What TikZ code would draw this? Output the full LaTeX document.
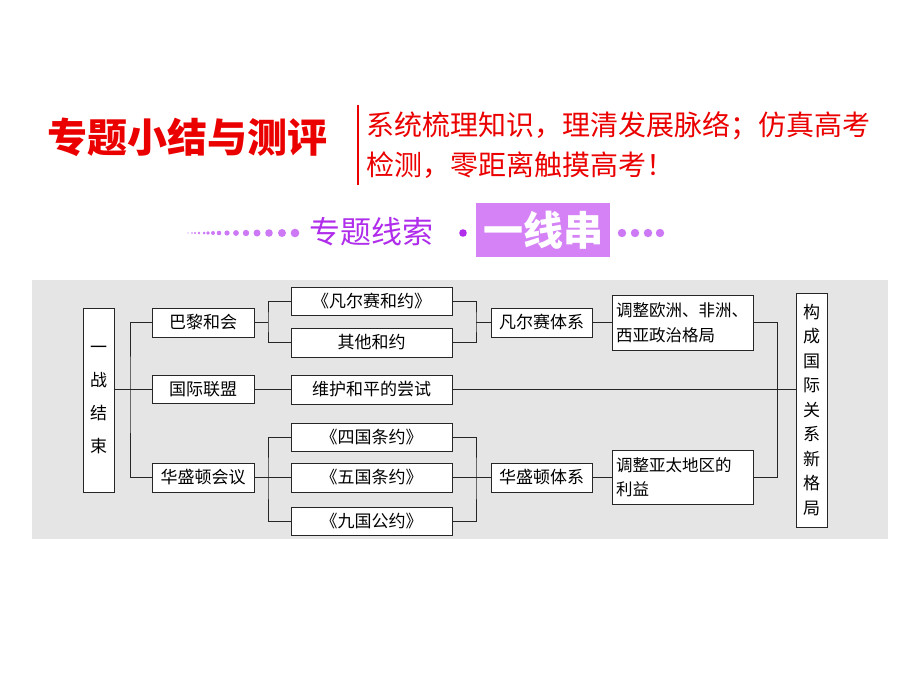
\documentclass[tikz,border=0pt]{standalone}
\usepackage{fontspec}
\newfontfamily\cjk{Noto Sans CJK SC}
\definecolor{bg}{RGB}{229,229,229}
\definecolor{tred}{RGB}{235,0,0}
\definecolor{tpurple}{RGB}{175,45,235}
\definecolor{dotp}{RGB}{205,120,245}
\definecolor{boxp}{RGB}{212,130,246}
\begin{document}
\begin{tikzpicture}[x=1pt,y=-1pt,
  box/.style={draw=black!85,fill=white,line width=0.9pt,inner sep=0pt,font=\cjk\fontsize{17}{20}\selectfont},
  lnk/.style={draw=black!85,line width=0.9pt},
  vbox/.style={box,minimum width=31,align=center},
]
\useasboundingbox (0,0) rectangle (920,690);
% header
\node[font=\cjk\bfseries\fontsize{40}{44}\selectfont,text=tred,anchor=west,inner sep=0pt] (title) at (47,137) {专题小结与测评};
\draw[tred,line width=1.2pt] (358,105) -- (358,185);
\node[font=\cjk\fontsize{28}{40}\selectfont,text=tred,anchor=north west,align=left,inner sep=0pt] (sub) at (366,111) {系统梳理知识，理清发展脉络；仿真高考\\检测，零距离触摸高考！};
% decoration line
\foreach \x/\r in {188/0.7,192/0.9,195/1.1,199/1.3,204/1.5,208/1.8,213/2.0,219/2.3,227/2.6,236/2.9,246/3.2,257/3.5,269/3.8,282/4.0,295/4.3}
  \fill[dotp] (\x,233) circle (\r);
\node[font=\cjk\fontsize{31}{34}\selectfont,text=tpurple,anchor=west,inner sep=0pt] (topic) at (309,232) {专题线索};
\fill[tpurple] (463,233) circle (3.8);
\node[fill=boxp,minimum width=134,minimum height=54,inner sep=0pt,font=\cjk\bfseries\fontsize{40}{44}\selectfont,text=white] (chain) at (543,230) {一线串};
\foreach \x in {622,635,648,660}
  \fill[dotp] (\x,233) circle (4.2);
% background panel
\fill[bg] (32,280) rectangle (888,539);
% boxes
\node[vbox,minimum height=184,font=\cjk\fontsize{17}{33}\selectfont] (a) at (98.5,400) {一\\战\\结\\束};
\node[box,minimum width=102,minimum height=29] (b1) at (203,322.5) {巴黎和会};
\node[box,minimum width=102,minimum height=28] (b2) at (203,389.5) {国际联盟};
\node[box,minimum width=102,minimum height=29] (b3) at (203,477.5) {华盛顿会议};
\node[box,minimum width=161,minimum height=28] (c1) at (371.5,301) {《凡尔赛和约》};
\node[box,minimum width=161,minimum height=29] (c2) at (371.5,342.5) {其他和约};
\node[box,minimum width=161,minimum height=29] (c3) at (371.5,389.5) {维护和平的尝试};
\node[box,minimum width=161,minimum height=28] (c4) at (371.5,437) {《四国条约》};
\node[box,minimum width=161,minimum height=29] (c5) at (371.5,477.5) {《五国条约》};
\node[box,minimum width=161,minimum height=28] (c6) at (371.5,521) {《九国公约》};
\node[box,minimum width=101,minimum height=29] (d1) at (541.5,322.5) {凡尔赛体系};
\node[box,minimum width=101,minimum height=29] (d2) at (541.5,477.5) {华盛顿体系};
\node[box,minimum width=141,minimum height=55,text width=133,align=left,font=\cjk\fontsize{16.5}{25}\selectfont] (e1) at (682.5,322.5) {调整欧洲、非洲、\\西亚政治格局};
\node[box,minimum width=141,minimum height=54,text width=133,align=left,font=\cjk\fontsize{16.5}{24}\selectfont] (e2) at (682.5,477) {调整亚太地区的\\利益};
\node[vbox,minimum height=234,font=\cjk\fontsize{17}{24.5}\selectfont] (f) at (811.5,410) {构\\成\\国\\际\\关\\系\\新\\格\\局};
% junctions
\coordinate (t) at (130,389.5);
\coordinate (j1) at (268,322.5);
\coordinate (j2) at (268,477.5);
\coordinate (j3) at (476,322.5);
\coordinate (j4) at (476,477.5);
\coordinate (j5) at (777,389.5);
% connectors
\draw[lnk] (a.east|-t) -- (b2.west);
\draw[lnk] (b1.west) -| (t) |- (b3.west);
\draw[lnk] (b1.east) -- (j1);
\draw[lnk] (c1.west) -| (j1) |- (c2.west);
\draw[lnk] (b2.east) -- (c3.west);
\draw[lnk] (b3.east) -- (c5.west);
\draw[lnk] (c4.west) -| (j2) |- (c6.west);
\draw[lnk] (c1.east) -| (j3) |- (c2.east);
\draw[lnk] (j3) -- (d1.west);
\draw[lnk] (c4.east) -| (j4) |- (c6.east);
\draw[lnk] (c5.east) -- (d2.west);
\draw[lnk] (d1.east) -- (e1.west);
\draw[lnk] (d2.east) -- (e2.west|-d2.east);
\draw[lnk] (e1.east) -| (j5) |- (e2.east);
\draw[lnk] (c3.east) -- (f.west|-c3.east);
\end{tikzpicture}
\end{document}
